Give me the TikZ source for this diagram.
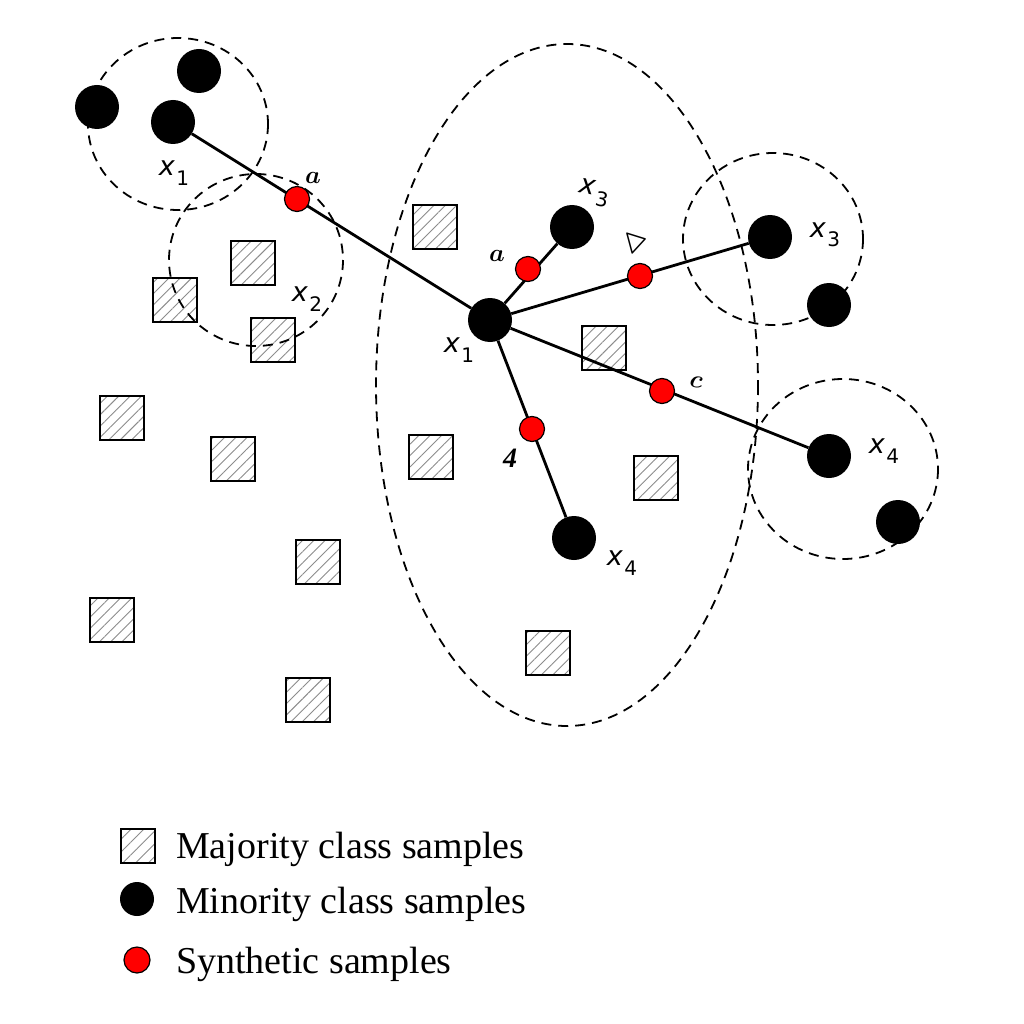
\documentclass[tikz,border=0pt]{standalone}
\usepackage{fontspec}
\setmainfont{Liberation Serif}
\newfontfamily\djv{DejaVu Sans}
\usetikzlibrary{patterns.meta}
\newcommand{\xs}[1]{{\djv\itshape x}\kern1.5pt\raisebox{-0.35em}{\djv\fontsize{20}{22}\selectfont #1}}
\tikzset{
  maj/.style={draw=black,line width=2pt,minimum size=44pt,inner sep=0pt,rectangle,
    preaction={fill=white},pattern={Lines[angle=45,distance=8pt,line width=0.9pt]},pattern color=black!45},
  mino/.style={circle,fill=black,minimum size=44pt,inner sep=0pt},
  synth/.style={circle,fill=red,draw=black,line width=1.2pt,minimum size=25pt,inner sep=0pt},
  nb/.style={dashed,dash pattern=on 10pt off 7pt,line width=1.8pt},
  link/.style={line width=2.8pt},
  lab/.style={font=\fontsize{27}{30}\selectfont,inner sep=0pt},
  tiny/.style={font=\fontsize{28}{30}\selectfont\boldmath,inner sep=0pt},
  leg/.style={font=\fontsize{38}{40}\selectfont,anchor=base west,inner sep=0pt}
}
\begin{document}
\begin{tikzpicture}[x=1pt,y=-1pt]
\useasboundingbox (0,0) rectangle (1024,1024);
% majority samples
\node[maj] (s1) at (435,227) {};
\node[maj] (s2) at (253,263) {};
\node[maj] (s3) at (175,300) {};
\node[maj] (s4) at (273,340) {};
\node[maj] (s5) at (122,418) {};
\node[maj] (s6) at (233,459) {};
\node[maj] (s7) at (431,457) {};
\node[maj] (s8) at (604,348) {};
\node[maj] (s9) at (656,478) {};
\node[maj] (s10) at (318,562) {};
\node[maj] (s11) at (112,620) {};
\node[maj] (s12) at (308,700) {};
\node[maj] (s13) at (548,653) {};
% neighbourhoods
\draw[nb] (567,385) ellipse [x radius=191, y radius=341];
\draw[nb] (178,124) ellipse [x radius=90, y radius=86];
\draw[nb] (256,260) ellipse [x radius=87, y radius=86];
\draw[nb] (773,239) ellipse [x radius=90, y radius=86];
\draw[nb] (843,469) ellipse [x radius=95, y radius=90];
% minority samples
\node[mino] (m1) at (97,107) {};
\node[mino] (m2) at (199,71) {};
\node[mino] (m3) at (173,122) {};
\node[mino] (c) at (490,320) {};
\node[mino] (i3) at (572,227) {};
\node[mino] (o3) at (770,237) {};
\node[mino] (o3b) at (829,305) {};
\node[mino] (o4) at (829,456) {};
\node[mino] (o4b) at (898,522) {};
\node[mino] (i4) at (574,538) {};
% links
\draw[link] (m3) -- (c);
\draw[link] (c) -- (i3);
\draw[link] (c) -- (o3);
\draw[link] (c) -- (o4);
\draw[link] (c) -- (i4);
% synthetic samples
\node[synth] (r1) at (297,199) {};
\node[synth] (r2) at (528,269) {};
\node[synth] (r3) at (640,276) {};
\node[synth] (r4) at (662,391) {};
\node[synth] (r5) at (532,429) {};
% labels
\node[lab] (l1) at (174,173) {\xs{1}};
\node[lab] (l2) at (307,299) {\xs{2}};
\node[lab,rotate=-10] (l3) at (594,193) {\xs{3}};
\node[lab] (l4) at (459,350) {\xs{1}};
\node[lab] (l5) at (825,235) {\xs{3}};
\node[lab] (l6) at (884,451) {\xs{4}};
\node[lab] (l7) at (622,563) {\xs{4}};
\node[tiny] (a1) at (313,178) {$a$};
\node[tiny] (a2) at (497,256) {$a$};
\node[inner sep=0pt,font=\fontsize{24}{26}\selectfont\boldmath,rotate=-75] (b1) at (635,242) {$\bigtriangleup$};
\node[tiny,rotate=-10] (c1) at (696,382) {$c$};
\node[tiny] (d1) at (510,458) {$\mathit{4}$};
% legend
\node[maj,minimum size=34pt,line width=2pt,pattern={Lines[angle=45,distance=9pt,line width=0.9pt]}] (lg1) at (138,846) {};
\node[mino,minimum size=34pt] (lg2) at (137,899) {};
\node[synth,minimum size=26pt] (lg3) at (137,960) {};
\node[leg] (t1) at (176,858) {Majority class samples};
\node[leg] (t2) at (176,913) {Minority class samples};
\node[leg] (t3) at (176,973) {Synthetic samples};
\end{tikzpicture}
\end{document}
